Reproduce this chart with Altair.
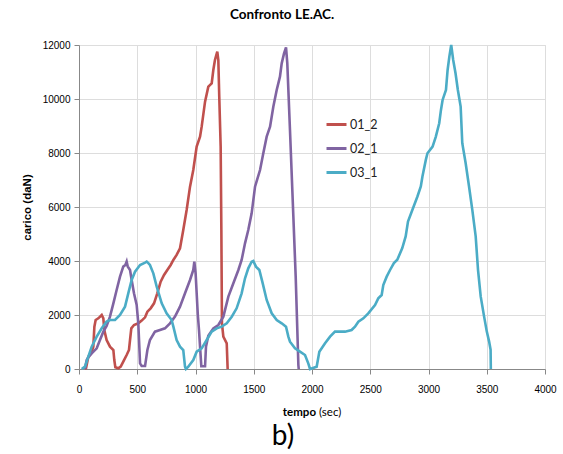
import altair as alt
import pandas as pd

series_names = ["01_2", "02_1", "03_1"]
series_colors = ["#C0504D", "#8064A2", "#4BACC6"]

red_t = [50, 60, 80, 109, 123, 132, 143, 166, 195, 209, 217, 237, 266, 295, 303, 312, 338, 358, 380, 409, 429,
         438, 449, 472, 509, 538, 567, 587, 615, 644, 672, 701, 730, 758, 787, 810, 838, 867, 895, 924, 953, 981,
         1010, 1039, 1053, 1082, 1110, 1139, 1153, 1167, 1187, 1196, 1204, 1216, 1222, 1227, 1239, 1268, 1276]
red_l = [0, 25, 457, 642, 827, 1568, 1815, 1877, 2000, 1877, 1445, 1074, 827, 704, 333, 62, 25, 86, 272, 519, 704,
         1074, 1507, 1630, 1692, 1791, 1914, 2124, 2248, 2433, 2803, 3236, 3483, 3668, 3853, 4038, 4224, 4470, 5148,
         5889, 6753, 7370, 8235, 8605, 8975, 9900, 10457, 10580, 11074, 11444, 11753, 11444, 10086, 8235, 5148, 1691,
         1198, 951, 0]

purple_t = [51, 66, 80, 109, 152, 180, 209, 237, 266, 295, 323, 352, 380, 398, 409, 418, 438, 452, 472, 495, 509,
            524, 538, 567, 587, 609, 652, 695, 738, 781, 824, 867, 910, 953, 981, 990, 1001, 1020, 1030, 1039, 1050,
            1082, 1090, 1110, 1153, 1196, 1239, 1282, 1325, 1368, 1396, 1425, 1453, 1482, 1511, 1554, 1582, 1611,
            1640, 1668, 1697, 1725, 1740, 1760, 1777, 1788, 1811, 1840, 1860, 1874, 1883, 1886]
purple_l = [0, 333, 430, 580, 766, 1074, 1383, 1593, 1939, 2433, 2927, 3421, 3791, 3850, 3977, 3800, 3668, 3297,
            2803, 2371, 1692, 210, 111, 111, 704, 1074, 1383, 1445, 1507, 1692, 1939, 2309, 2803, 3297, 3668, 3977,
            3544, 2000, 1444, 827, 100, 100, 827, 1234, 1506, 1630, 1938, 2679, 3173, 3667, 4037, 4654, 5148, 5765,
            6753, 7370, 7988, 8605, 8975, 9716, 10333, 10827, 11321, 11691, 11914, 11321, 8852, 5642, 3420, 1444,
            148, 0]

cyan_t = [23, 51, 80, 109, 152, 195, 237, 266, 309, 352, 395, 423, 452, 481, 524, 567, 581, 595, 609, 638, 667,
          710, 752, 795, 810, 838, 867, 895, 910, 918, 938, 981, 1010, 1053, 1096, 1139, 1182, 1225, 1268, 1311,
          1353, 1396, 1425, 1453, 1482, 1496, 1519, 1548, 1577, 1611, 1654, 1697, 1740, 1777, 1797, 1811, 1854,
          1897, 1940, 1968, 1983, 2040, 2063, 2112, 2155, 2197, 2283, 2340, 2369, 2398, 2441, 2483, 2541, 2569,
          2598, 2612, 2641, 2670, 2703, 2732, 2775, 2804, 2824, 2862, 2905, 2934, 2948, 2977, 2991, 3035, 3063,
          3092, 3107, 3121, 3150, 3164, 3179, 3195, 3212, 3232, 3252, 3276, 3290, 3319, 3348, 3376, 3405, 3425,
          3448, 3477, 3500, 3520, 3533, 3535]
cyan_l = [0, 86, 457, 827, 1198, 1507, 1754, 1815, 1815, 2001, 2309, 2803, 3297, 3606, 3853, 3940, 3977, 3920,
          3853, 3544, 3050, 2433, 2062, 1815, 1568, 1074, 827, 704, 86, 0, 86, 333, 642, 765, 1074, 1383, 1506,
          1568, 1691, 1938, 2247, 2802, 3358, 3728, 3975, 4000, 3790, 3667, 3173, 2556, 2062, 1815, 1691, 1568,
          1198, 1012, 765, 642, 519, 210, 0, 86, 642, 951, 1198, 1383, 1383, 1444, 1567, 1753, 1876, 2062, 2370,
          2617, 2740, 3111, 3420, 3667, 3922, 4045, 4477, 4909, 5464, 5895, 6389, 6759, 7129, 7745, 7992, 8238,
          8609, 9102, 9595, 9965, 10335, 11075, 11569, 12000, 11445, 10952, 10335, 9718, 8362, 7622, 6759, 5895,
          4909, 3675, 2689, 1949, 1394, 1024, 715, 0]

x_ticks = [0, 500, 1000, 1500, 2000, 2500, 3000, 3500, 4000]
y_ticks = [0, 2000, 4000, 6000, 8000, 10000, 12000]

rows = []
for name, ts, ls in [(series_names[0], red_t, red_l), (series_names[1], purple_t, purple_l),
                     (series_names[2], cyan_t, cyan_l)]:
    for i, (t, l) in enumerate(zip(ts, ls)):
        rows.append({"serie": name, "tempo": t, "carico": l, "i": i})
df = pd.DataFrame(rows)

FONT = "Lato"

lines = alt.Chart(df).mark_line(strokeWidth=2.6).encode(
    x=alt.X("tempo:Q", scale=alt.Scale(domain=[0, 4000], nice=False),
            axis=alt.Axis(values=x_ticks, title=None, format="d", labelPadding=10, labelFlush=False)),
    y=alt.Y("carico:Q", scale=alt.Scale(domain=[0, 12000], nice=False),
            axis=alt.Axis(values=y_ticks, title="carico (daN)", format="d", titleFontWeight="bold",
                          titleFontSize=11.5, titlePadding=10, labelPadding=4, labelFlush=False)),
    color=alt.Color("serie:N", scale=alt.Scale(domain=series_names, range=series_colors),
                    legend=alt.Legend(title=None, orient="none", legendX=246, legendY=68,
                                      symbolType="stroke", symbolSize=400, symbolStrokeWidth=3,
                                      labelFontSize=12.5, labelFont=FONT, rowPadding=6, labelOffset=2,
                                      labelColor="#222222")),
    order="i:Q",
)

ann = pd.DataFrame({"a": [0]})
t1 = alt.Chart(ann).mark_text(text="tempo", fontWeight="bold", fontSize=11.5, font=FONT, align="right",
                              baseline="middle").encode(x=alt.value(237), y=alt.value(368))
t2 = alt.Chart(ann).mark_text(text="(sec)", fontSize=11.5, font=FONT, align="left",
                              baseline="middle").encode(x=alt.value(240), y=alt.value(368))
t3 = alt.Chart(ann).mark_text(text="b)", fontSize=28, font=FONT, align="center",
                              baseline="middle").encode(x=alt.value(204), y=alt.value(392))

chart = alt.layer(lines, t1, t2, t3).properties(
    width=466, height=324,
    autosize=alt.AutoSizeParams(type="none"),
    padding={"left": 79, "top": 45, "right": 18, "bottom": 85},
    title=alt.TitleParams("Confronto LE.AC.", fontSize=13.5, fontWeight="bold", font=FONT, anchor="middle",
                          dx=-30, offset=18, color="#000000"),
).configure_view(stroke=None).configure_axis(
    domainColor="#868686", tickColor="#868686", gridColor="#d9d9d9", labelFont=FONT, titleFont=FONT,
    labelFontSize=12.5, labelColor="#222222", titleColor="#000000", tickSize=5,
).configure(background="white")

chart.save("out.html", embed_options={"renderer": "svg", "actions": False})
